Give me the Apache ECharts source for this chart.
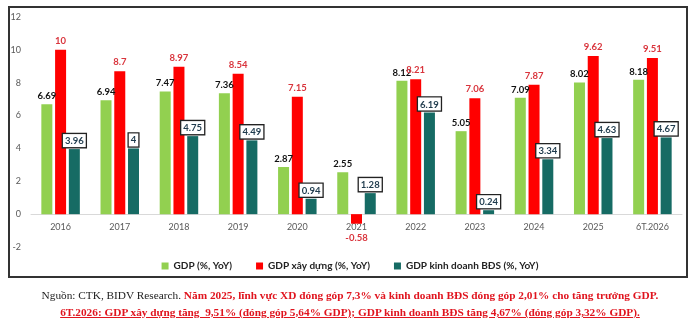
<!DOCTYPE html>
<html>
<head>
<meta charset="utf-8">
<script src="https://cdn.jsdelivr.net/npm/echarts@6/dist/echarts.min.js"></script>
<style>
  body { margin: 0; background: #fff; }
  #wrap { position: relative; width: 700px; height: 324px; overflow: hidden; }
  #main { position: absolute; left: 0; top: 0; width: 700px; height: 324px; }
  .note { position: absolute; left: 0; width: 700px; text-align: center; font-family: "Liberation Serif", serif; font-size: 11.3px; white-space: nowrap; }
  .red { color: #e0141e; font-weight: bold; }
</style>
</head>
<body>
<div id="wrap">
  <div id="main"></div>
  <div class="note" style="top:289px;"><span style="color:#222">Nguồn: CTK, BIDV Research.</span> <span class="red">Năm 2025, lĩnh vực XD đóng góp 7,3% và kinh doanh BĐS đóng góp 2,01% cho tăng trưởng GDP.</span></div>
  <div class="note" style="top:306px;"><span class="red" style="text-decoration:underline">6T.2026: GDP xây dựng tăng&nbsp; 9,51% (đóng góp 5,64% GDP); GDP kinh doanh BĐS tăng 4,67% (đóng góp 3,32% GDP).</span></div>
</div>
<script>
const years = ['2016', '2017', '2018', '2019', '2020', '2021', '2022', '2023', '2024', '2025', '6T.2026'];
const gdp = [6.69, 6.94, 7.47, 7.36, 2.87, 2.55, 8.12, 5.05, 7.09, 8.02, 8.18];
const gdpXayDung = [10, 8.7, 8.97, 8.54, 7.15, -0.58, 8.21, 7.06, 7.87, 9.62, 9.51];
const gdpBds = [3.96, 4, 4.75, 4.49, 0.94, 1.28, 6.19, 0.24, 3.34, 4.63, 4.67];

const font = 'Lato, "Open Sans", sans-serif';

const chart = echarts.init(document.getElementById('main'));

chart.setOption({
  animation: false,
  textStyle: { fontFamily: font },
  // khung viền quanh biểu đồ
  graphic: [{
    type: 'rect',
    z: 100,
    shape: { x: 9, y: 7, width: 678, height: 270 },
    style: { fill: 'none', stroke: '#333', lineWidth: 2 },
    silent: true
  }],
  grid: { left: 31, right: 18, top: 17, bottom: 77 },
  legend: {
    top: 256,
    left: 'center',
    itemWidth: 7,
    itemHeight: 7,
    itemGap: 24,
    icon: 'rect',
    textStyle: { fontSize: 10, fontWeight: 'bold', color: '#222', fontFamily: font },
    data: ['GDP (%, YoY)', 'GDP xây dựng (%, YoY)', 'GDP kinh doanh BĐS (%, YoY)']
  },
  xAxis: {
    type: 'category',
    data: years,
    axisLine: { onZero: true, lineStyle: { color: '#d9d9d9' } },
    axisTick: { show: false },
    // v6 keeps labels at grid bottom, pull them up under the zero line
    axisLabel: { color: '#595959', fontSize: 9, margin: -24 }
  },
  yAxis: {
    type: 'value',
    min: -2,
    max: 12,
    interval: 2,
    splitLine: { show: false },
    axisLine: { show: false },
    axisLabel: { color: '#595959', fontSize: 9, margin: 10 }
  },
  series: [
    {
      name: 'GDP (%, YoY)',
      type: 'bar',
      barWidth: 11,
      barGap: '25%',
      itemStyle: { color: '#92D050' },
      label: { show: true, position: 'top', distance: 3, fontSize: 9.5, fontWeight: 'bold', color: '#111' },
      data: gdp
    },
    {
      name: 'GDP xây dựng (%, YoY)',
      type: 'bar',
      barWidth: 11,
      barGap: '25%',
      itemStyle: { color: '#FF0000' },
      label: { show: true, position: 'top', distance: 4, fontSize: 9.5, fontWeight: 'bold', color: '#d9343c' },
      data: gdpXayDung.map(v => v < 0 ? { value: v, label: { position: 'bottom', distance: 9 } } : v)
    },
    {
      name: 'GDP kinh doanh BĐS (%, YoY)',
      type: 'bar',
      barWidth: 11,
      barGap: '25%',
      itemStyle: { color: '#166b64' },
      label: {
        show: true, position: 'top', distance: 2, fontSize: 9.5, fontWeight: 'bold', color: '#1f3b4d',
        backgroundColor: '#fff', borderColor: '#222', borderWidth: 1.3, padding: [2, 2, 1, 2]
      },
      data: gdpBds
    }
  ]
});
</script>
</body>
</html>
